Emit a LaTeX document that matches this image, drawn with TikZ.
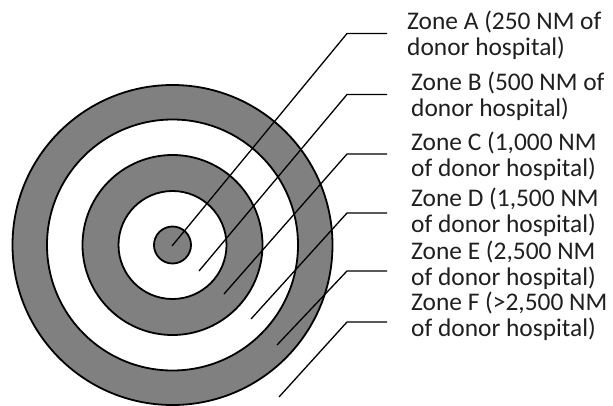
\documentclass[tikz,border=0pt]{standalone}
\usepackage{fontspec}
\setmainfont{Carlito}
\begin{document}
\begin{tikzpicture}[x=1pt,y=-1pt,
  ring/.style={draw=black,line width=1.8pt},
  leader/.style={draw=black,line width=1.3pt},
  zonelabel/.style={anchor=base west,inner sep=0pt,align=left,text=black!88,
    font=\fontsize{25.4}{26}\selectfont}]
\definecolor{zonegray}{RGB}{128,128,128}
\useasboundingbox (0,0) rectangle (613,405);
% target rings
\coordinate (c) at (172.5,245);
\filldraw[ring,fill=zonegray] (c) circle[radius=160];
\filldraw[ring,fill=white] (c) circle[radius=125.5];
\filldraw[ring,fill=zonegray] (c) circle[radius=90];
\filldraw[ring,fill=white] (c) circle[radius=54];
\filldraw[ring,fill=zonegray] (c) circle[radius=18.5];
% leader points
\coordinate (a0) at (172,246); \coordinate (a1) at (347,33.5); \coordinate (a2) at (387,33.5);
\coordinate (b0) at (199,271); \coordinate (b1) at (347,94.5); \coordinate (b2) at (387,94.5);
\coordinate (c0) at (224,294); \coordinate (c1) at (347,154); \coordinate (c2) at (387,154);
\coordinate (d0) at (251,319); \coordinate (d1) at (347,213); \coordinate (d2) at (387,213);
\coordinate (e0) at (277,345); \coordinate (e1) at (347,271); \coordinate (e2) at (387,271);
\coordinate (f0) at (279,397); \coordinate (f1) at (347,322); \coordinate (f2) at (387,322);
\foreach \z in {a,b,c,d,e,f}{\draw[leader] (\z0) -- (\z1) -- (\z2);}
% labels (anchor at the baseline of the second line)
\node[zonelabel] (la) at (407,55) {Zone A (250 NM of\\donor hospital)};
\node[zonelabel] (lb) at (411,116.5) {Zone B (500 NM of\\donor hospital)};
\node[zonelabel] (lc) at (411,176.5) {Zone C (1,000 NM\\of donor hospital)};
\node[zonelabel] (ld) at (411,232) {Zone D (1,500 NM\\of donor hospital)};
\node[zonelabel] (le) at (411,285) {Zone E (2,500 NM\\of donor hospital)};
\node[zonelabel] (lf) at (411,336) {Zone F (>2,500 NM\\of donor hospital)};
\end{tikzpicture}
\end{document}
